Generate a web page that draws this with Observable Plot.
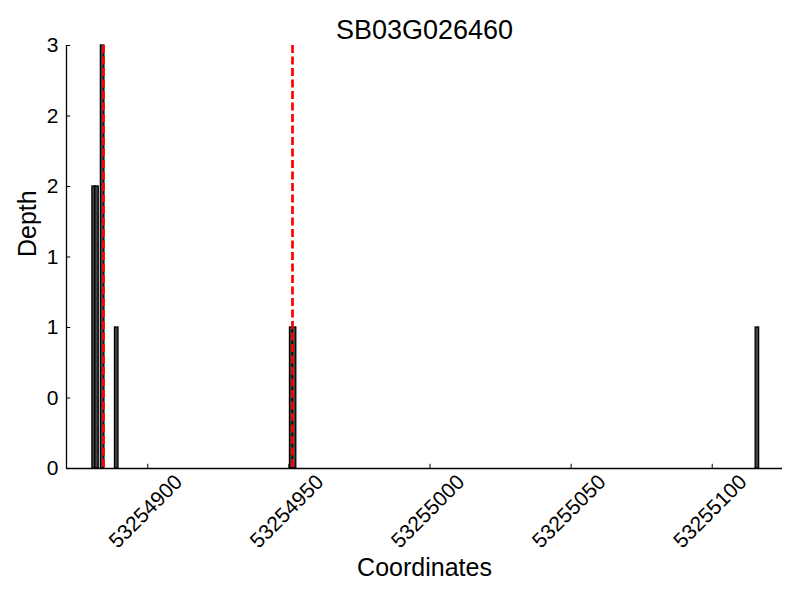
<!DOCTYPE html>
<html>
<head>
<meta charset="utf-8">
<script src="https://cdn.jsdelivr.net/npm/d3@7"></script>
<script src="https://cdn.jsdelivr.net/npm/@observablehq/plot@0.6"></script>
<style>
  html, body { margin: 0; padding: 0; background: #fff; }
</style>
</head>
<body>
<div id="chart"></div>
<script>
const title = "SB03G026460";
const positions = [53254881, 53254882, 53254884, 53254889, 53254951, 53254952, 53255116];
const depths = [2, 2, 3, 1, 1, 1, 1];
const markers = [53254884, 53254951];
const xTicks = [53254900, 53254950, 53255000, 53255050, 53255100];
const yTicks = [0, 0.5, 1, 1.5, 2, 2.5, 3];
const yTickLabels = ["0", "0", "1", "1", "2", "2", "3"];
const xDomain = [53254871.2, 53255124.9];
const yDomain = [0, 3];

const bars = positions.map((p, i) => ({pos: p, depth: depths[i]}));
const font = "'Liberation Sans', Arial, Helvetica, sans-serif";

const chart = Plot.plot({
  width: 800,
  height: 600,
  marginLeft: 66,
  marginRight: 18,
  marginTop: 45,
  marginBottom: 132,
  style: {fontFamily: font, background: "#fff", color: "#000"},
  x: {type: "linear", domain: xDomain, axis: null},
  y: {type: "linear", domain: yDomain, axis: null},
  marks: [
    Plot.rect(bars, {x1: d => d.pos - 0.62, x2: d => d.pos + 0.62, y1: 0, y2: "depth", fill: "#444", stroke: "#000", strokeWidth: 1.3}),
    Plot.ruleX(markers, {x: d => d, dx: 0.8, stroke: "#ff0000", strokeWidth: 2.7, strokeDasharray: "8,3.5"}),
    // spines
    Plot.ruleY([yDomain[0]], {stroke: "#000", strokeWidth: 1.3}),
    Plot.ruleX([xDomain[0]], {stroke: "#000", strokeWidth: 1.3}),
    // inward ticks
    Plot.ruleX(xTicks, {x: d => d, y1: 0, y2: 0.03, stroke: "#000", strokeWidth: 1}),
    Plot.ruleY(yTicks, {y: d => d, x1: xDomain[0], x2: xDomain[0] + 1.5, stroke: "#000", strokeWidth: 1}),
    // tick labels
    Plot.text(xTicks, {x: d => d, frameAnchor: "bottom", dy: 43, dx: -2, rotate: -45, textAnchor: "middle", lineAnchor: "middle", fontSize: 21, fill: "#000", text: d => String(d)}),
    Plot.text(yTicks, {y: d => d, frameAnchor: "left", dx: -8, textAnchor: "end", lineAnchor: "middle", fontSize: 21, fill: "#000", text: (d, i) => yTickLabels[i]}),
    // axis labels and title
    Plot.text([title], {frameAnchor: "top", dy: -15, lineAnchor: "middle", fontSize: 27, fill: "#000"}),
    Plot.text(["Coordinates"], {frameAnchor: "bottom", dy: 99, lineAnchor: "middle", fontSize: 25, fill: "#000"}),
    Plot.text(["Depth"], {frameAnchor: "left", dx: -39, rotate: -90, lineAnchor: "middle", fontSize: 25, fill: "#000"})
  ]
});
document.getElementById("chart").appendChild(chart);
</script>
</body>
</html>
